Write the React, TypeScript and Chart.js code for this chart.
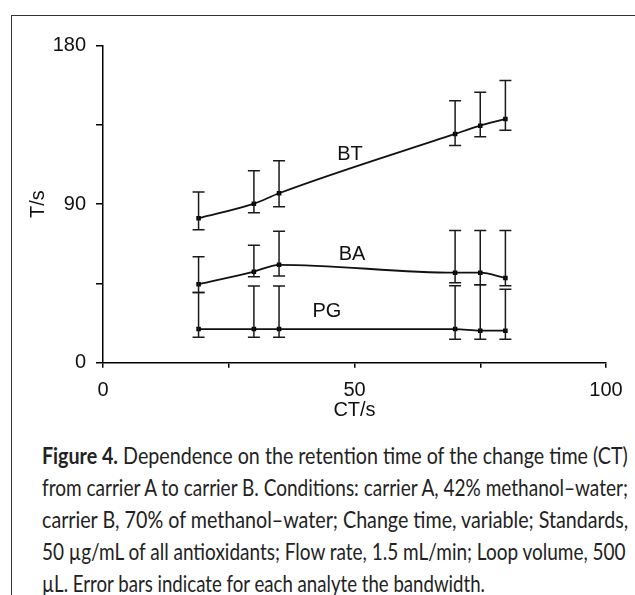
import React, { useEffect, useLayoutEffect, useRef } from 'react';
import { Chart, registerables } from 'chart.js';

Chart.register(...registerables);

// ---- data ----
const ctValues = [19, 30, 35, 70, 75, 80];

const btValues = [82.0, 90.3, 96.2, 129.9, 134.6, 138.4];
const btLow = [75.5, 85.2, 88.6, 123.4, 128.3, 132.0];
const btHigh = [96.9, 109.0, 114.7, 148.8, 153.5, 160.3];

const baValues = [44.5, 51.7, 55.6, 51.1, 51.1, 48.1];
const baLow = [39.8, 48.8, 49.2, 45.4, 44.3, 43.7];
const baHigh = [60.2, 66.7, 74.6, 75.0, 75.0, 75.0];

const pgValues = [19.1, 19.1, 19.1, 19.1, 18.2, 18.2];
const pgLow = [14.4, 14.4, 14.4, 13.3, 13.3, 13.3];
const pgHigh = [39.8, 43.6, 43.6, 43.7, 44.3, 41.7];

const seriesNames = ['BT', 'BA', 'PG'];
const seriesLabelX = [49.1, 49.5, 44.5];
const seriesLabelY = [118.5, 61.2, 28.8];

const xTickLabels = [0, 50, 100];
const yTickLabels = [0, 90, 180];
const xTitle = 'CT/s';
const yTitle = 'T/s';

const captionBold = 'Figure 4.';
const captionLines = [
  ' Dependence on the retention time of the change time (CT)',
  'from carrier A to carrier B. Conditions: carrier A, 42% methanol\u2013water;',
  'carrier B, 70% of methanol\u2013water; Change time, variable; Standards,',
  '50 \u00b5g/mL of all antioxidants; Flow rate, 1.5 mL/min; Loop volume, 500',
  '\u00b5L. Error bars indicate for each analyte the bandwidth.',
];
const captionWidths = [586, 586, 586, 584, 443];

const INK = '#111';
const FONT = "'Liberation Sans', Arial, sans-serif";

const errorBarPlugin = {
  id: 'errorBars',
  afterDatasetsDraw(chart: any) {
    const ctx = chart.ctx;
    const xs = chart.scales.x;
    const ys = chart.scales.y;
    ctx.save();
    ctx.strokeStyle = '#1a1a1a';
    ctx.lineWidth = 1.5;
    chart.data.datasets.forEach((ds: any) => {
      ds.data.forEach((pt: any, i: number) => {
        const x = xs.getPixelForValue(pt.x);
        const yl = ys.getPixelForValue(ds.errLow[i]);
        const yh = ys.getPixelForValue(ds.errHigh[i]);
        ctx.beginPath();
        ctx.moveTo(x, yl);
        ctx.lineTo(x, yh);
        ctx.moveTo(x - 6, yl);
        ctx.lineTo(x + 6, yl);
        ctx.moveTo(x - 6, yh);
        ctx.lineTo(x + 6, yh);
        ctx.stroke();
      });
    });
    // series name labels
    ctx.fillStyle = INK;
    ctx.font = `20px ${FONT}`;
    ctx.textAlign = 'center';
    ctx.textBaseline = 'middle';
    seriesNames.forEach((n, i) => {
      ctx.fillText(n, xs.getPixelForValue(seriesLabelX[i]), ys.getPixelForValue(seriesLabelY[i]));
    });
    ctx.restore();
  },
};

function makeDataset(name: string, vals: number[], low: number[], high: number[]) {
  return {
    label: name,
    data: ctValues.map((x, i) => ({ x, y: vals[i] })),
    errLow: low,
    errHigh: high,
    borderColor: INK,
    borderWidth: 1.8,
    pointStyle: 'rect',
    pointRadius: 3.2,
    pointBackgroundColor: '#000',
    pointBorderWidth: 0,
    cubicInterpolationMode: 'monotone',
    fill: false,
  };
}

function ChartBox() {
  const ref = useRef<HTMLCanvasElement>(null);
  useEffect(() => {
    if (!ref.current) return;
    const chart = new Chart(ref.current, {
      type: 'line',
      data: {
        datasets: [
          makeDataset('BT', btValues, btLow, btHigh),
          makeDataset('BA', baValues, baLow, baHigh),
          makeDataset('PG', pgValues, pgLow, pgHigh),
        ] as any,
      },
      options: {
        responsive: false,
        animation: false,
        layout: { padding: { top: 45.7, right: 29, left: 0, bottom: 0 } },
        plugins: { legend: { display: false }, tooltip: { enabled: false } },
        scales: {
          x: {
            type: 'linear',
            min: 0,
            max: 100,
            afterFit: (s: any) => { s.height = 67.3; },
            ticks: {
              stepSize: 25,
              autoSkip: false,
              maxRotation: 0,
              padding: 11,
              color: INK,
              font: { family: FONT, size: 20 },
              callback: (v: any) => (xTickLabels.includes(v) ? String(v) : ''),
            },
            grid: { drawOnChartArea: false, drawTicks: true, tickLength: 5, color: '#000', lineWidth: 1.5 },
            border: { display: true, color: '#000', width: 1.5 },
            title: { display: true, text: xTitle, color: INK, font: { family: FONT, size: 20 }, padding: { top: 0, bottom: 8 } },
          },
          y: {
            type: 'linear',
            min: 0,
            max: 180,
            afterFit: (s: any) => { s.width = 103; },
            ticks: {
              stepSize: 45,
              autoSkip: false,
              padding: 10,
              color: INK,
              font: { family: FONT, size: 20 },
              callback: (v: any) => (yTickLabels.includes(v) ? String(v) : ''),
            },
            grid: { drawOnChartArea: false, drawTicks: true, tickLength: 7, color: '#000', lineWidth: 1.5 },
            border: { display: true, color: '#000', width: 1.5 },
            title: { display: true, text: yTitle, color: INK, font: { family: FONT, size: 20 }, padding: { top: 26, bottom: 0 } },
          },
        },
      } as any,
      plugins: [errorBarPlugin],
    });
    return () => chart.destroy();
  }, []);
  return (
    <canvas
      ref={ref}
      width={635}
      height={430}
      style={{ position: 'absolute', left: 0, top: 0, width: 635, height: 430 }}
    />
  );
}

function Caption() {
  const refs = useRef<(HTMLSpanElement | null)[]>([]);
  useLayoutEffect(() => {
    refs.current.forEach((el, i) => {
      if (!el) return;
      const w = el.scrollWidth;
      if (w > 0) el.style.transform = `scaleX(${captionWidths[i] / w})`;
    });
  }, []);
  return (
    <div
      style={{
        position: 'absolute',
        left: 42,
        top: 439,
        fontFamily: "Lato, 'Open Sans', sans-serif",
        fontSize: 23,
        lineHeight: '32px',
        color: '#222',
      }}
    >
      {captionLines.map((t, i) => (
        <div key={i} style={{ height: 32, whiteSpace: 'nowrap' }}>
          <span
            ref={(el) => { refs.current[i] = el; }}
            style={{ display: 'inline-block', transformOrigin: 'left center', whiteSpace: 'nowrap' }}
          >
            {i === 0 ? <b style={{ fontWeight: 700 }}>{captionBold}</b> : null}
            {t}
          </span>
        </div>
      ))}
    </div>
  );
}

export default function App() {
  return (
    <div style={{ position: 'absolute', left: 0, top: 0, width: 635, height: 595, background: '#fff', overflow: 'hidden' }}>
      <div style={{ position: 'absolute', left: 11, top: 15, width: 630, height: 600, borderLeft: '1.5px solid #333', borderTop: '1.5px solid #333' }} />
      <ChartBox />
      <Caption />
    </div>
  );
}
